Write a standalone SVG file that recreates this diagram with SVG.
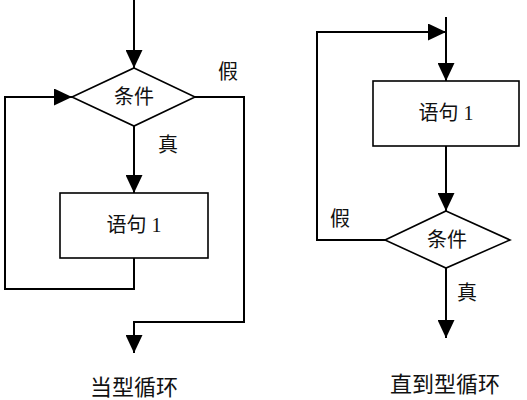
<svg xmlns="http://www.w3.org/2000/svg" width="527" height="400" viewBox="0 0 527 400">
<defs>
<style>
.ln{fill:none;stroke:#000;stroke-width:2}
.sh{fill:#fff;stroke:#000;stroke-width:1.6}
.t{font-family:"Liberation Serif","Noto Sans CJK SC",sans-serif;font-size:20px;fill:#111;text-anchor:middle;dominant-baseline:central}
.ti{font-family:"Noto Sans CJK SC",sans-serif;font-size:22px;fill:#111;text-anchor:middle;dominant-baseline:central}
</style>
<marker id="ah" viewBox="0 0 18 17" refX="18" refY="8.5" markerWidth="18" markerHeight="17" markerUnits="userSpaceOnUse" orient="auto">
<path d="M0,0 L18,8.5 L0,17 Z" fill="#000"/>
</marker>
</defs>
<rect width="527" height="400" fill="#fff"/>
<g id="connectors">
<path class="ln" d="M134,0 V68" marker-end="url(#ah)"/>
<path class="ln" d="M134,126 V193" marker-end="url(#ah)"/>
<path class="ln" d="M134,258 V289 H5 V97 H72" marker-end="url(#ah)"/>
<path class="ln" d="M195,97 H244 V322 H134 V353" marker-end="url(#ah)"/>
<path class="ln" d="M446,17 V81" marker-end="url(#ah)"/>
<path class="ln" d="M446,146 V211" marker-end="url(#ah)"/>
<path class="ln" d="M385,240 H317 V32 H446" marker-end="url(#ah)"/>
<path class="ln" d="M446,268 V338" marker-end="url(#ah)"/>
</g>
<g id="cond1">
<polygon class="sh" points="134,68 195,97 134,126 72,97"/>
<text class="t" x="134" y="97">条件</text>
</g>
<g id="stmt1">
<rect class="sh" x="60" y="193" width="148" height="65"/>
<text class="t" x="134" y="225">语句 1</text>
</g>
<g id="stmt2">
<rect class="sh" x="373" y="81" width="146" height="65"/>
<text class="t" x="446" y="113">语句 1</text>
</g>
<g id="cond2">
<polygon class="sh" points="446,211 510,240 446,268 385,240"/>
<text class="t" x="447" y="240">条件</text>
</g>
<g id="labels">
<text class="t" x="228" y="72">假</text>
<text class="t" x="168" y="145">真</text>
<text class="t" x="340" y="219">假</text>
<text class="t" x="467" y="293">真</text>
<text class="ti" x="134" y="385">当型循环</text>
<text class="ti" x="445" y="382">直到型循环</text>
</g>
</svg>
